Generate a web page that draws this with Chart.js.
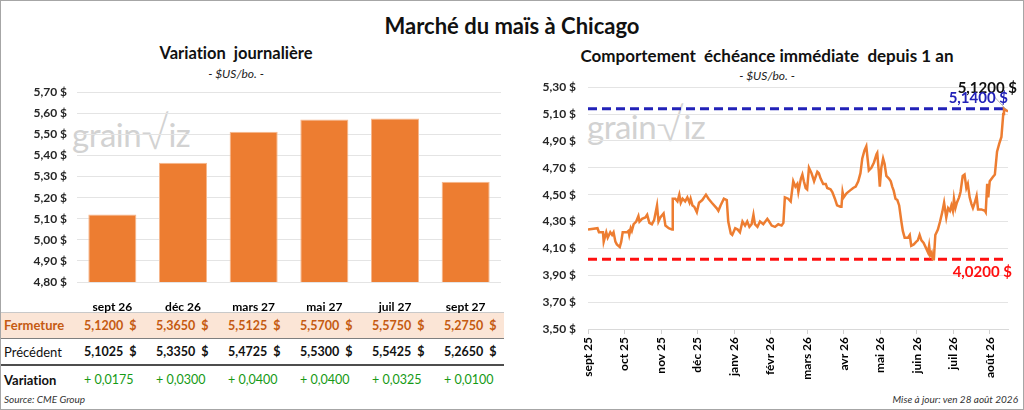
<!DOCTYPE html>
<html lang="fr">
<head>
<meta charset="utf-8">
<script src="https://cdn.jsdelivr.net/npm/chart.js@4.4.1/dist/chart.umd.min.js"></script>
<style>
  html, body { margin: 0; padding: 0; background: #fff; }
  body { width: 1024px; height: 410px; position: relative; overflow: hidden; font-family: Lato, "Noto Sans", sans-serif; color: #111; font-variant-ligatures: none; }
  .cadre { position: absolute; left: 0; top: 0; width: 1022px; height: 408px; border: 1px solid #a6a6a6; }
  .c { position: absolute; white-space: nowrap; transform: translate(-50%, -50%); }
  .titre { font-weight: bold; font-size: 22px; color: #111; }
  .sous { font-weight: bold; font-size: 16.5px; color: #111; }
  .unite { font-style: italic; font-size: 12px; color: #222; }
  .marque { position: absolute; font-size: 33px; color: #d2d2d2; letter-spacing: -0.5px; }
  .marque span { font-size: 44px; font-weight: 300; vertical-align: -2px; }
  canvas { position: absolute; z-index: 2; }
  .ligne { position: absolute; left: 1px; width: 503px; }
  .cell { position: absolute; top: 0; white-space: nowrap; }
  .note { position: absolute; font-style: italic; font-size: 10px; color: #333; white-space: nowrap; }
</style>
</head>
<body>
<div class="cadre"></div>

<div class="c titre" style="left:512px; top:25px;">Marché du maïs à Chicago</div>

<div class="c sous" style="left:236px; top:53px;">Variation&nbsp; journalière</div>
<div class="c unite" style="left:236px; top:73px;">- $US/bo. -</div>

<div class="c sous" style="left:767px; top:55px; font-size:17px;">Comportement&nbsp; échéance immédiate&nbsp; depuis 1 an</div>
<div class="c unite" style="left:767px; top:75px;">- $US/bo. -</div>

<div class="marque" style="left:72px; top:106px;">grain<span>√</span>iz</div>
<div class="marque" style="left:587px; top:98px;">grain<span>√</span>iz</div>

<canvas id="jour" width="512" height="239" style="left:0; top:75px;"></canvas>
<canvas id="annee" width="512" height="317" style="left:512px; top:68px;"></canvas>

<div id="tableau"></div>

<div class="note" style="left:4px; top:393px;">Source: CME Group</div>
<div class="note" style="right:6px; top:393px;">Mise à jour: ven 28 août 2026</div>

<script>
// --- Variation journalière (échéances) ---
const echeances = ['sept 26', 'déc 26', 'mars 27', 'mai 27', 'juil 27', 'sept 27'];
const fermeture = [5.12, 5.365, 5.5125, 5.57, 5.575, 5.275];
const precedent = [5.1025, 5.335, 5.4725, 5.53, 5.5425, 5.265];
const variation = [0.0175, 0.03, 0.04, 0.04, 0.0325, 0.01];

// --- Échéance immédiate depuis 1 an ---
const moisAxe = ['sept 25', 'oct 25', 'nov 25', 'déc 25', 'janv 26', 'févr 26',
                 'mars 26', 'avr 26', 'mai 26', 'juin 26', 'juil 26', 'août 26'];
// position en mois depuis début sept 2025
const positions = [
  0.00, 0.26, 0.30, 0.41, 0.43, 0.50, 0.54, 0.61, 0.66, 0.70, 0.75, 0.79, 0.87, 0.91, 0.95,
  1.07, 1.11, 1.13, 1.17, 1.20, 1.25, 1.32, 1.38, 1.41, 1.48, 1.57, 1.62, 1.68, 1.75, 1.81, 1.89, 1.93, 1.98,
  2.07, 2.12, 2.21, 2.30, 2.32, 2.39, 2.45, 2.50, 2.54, 2.59, 2.66, 2.72, 2.78, 2.81, 2.86, 2.91, 2.98,
  3.04, 3.13, 3.23, 3.30, 3.39, 3.52, 3.57, 3.63, 3.72, 3.80, 3.84, 3.91, 3.95,
  4.03, 4.10, 4.16, 4.23, 4.30, 4.36, 4.42, 4.48, 4.53, 4.57, 4.64, 4.71, 4.80, 4.91, 4.96,
  5.03, 5.12, 5.21, 5.30, 5.35, 5.39, 5.48, 5.55, 5.62, 5.68, 5.73, 5.76, 5.83, 5.87, 5.91, 5.96,
  6.00, 6.05, 6.12, 6.19, 6.28, 6.32, 6.37, 6.44, 6.51, 6.55, 6.64, 6.69, 6.76, 6.82, 6.91, 6.94, 6.97,
  7.00, 7.08, 7.17, 7.26, 7.33, 7.40, 7.46, 7.51, 7.57, 7.62, 7.69, 7.76, 7.83, 7.90, 7.92, 7.96, 7.99,
  8.03, 8.08, 8.12, 8.17, 8.24, 8.29, 8.33, 8.37, 8.42, 8.47, 8.52, 8.58, 8.62, 8.67, 8.76, 8.81, 8.85, 8.92, 8.99,
  9.03, 9.08, 9.13, 9.19, 9.26, 9.31, 9.34, 9.37, 9.41, 9.44, 9.47, 9.51, 9.58, 9.64, 9.70, 9.75, 9.81, 9.86, 9.91, 9.95, 9.99,
  10.02, 10.06, 10.10, 10.16, 10.20, 10.26, 10.31, 10.36, 10.40, 10.45, 10.50, 10.54, 10.59, 10.64, 10.68, 10.77, 10.87, 10.89, 10.93, 10.96,
  11.00, 11.08, 11.14, 11.20, 11.26, 11.32, 11.37, 11.39, 11.50
];
const prix = [
  4.24, 4.25, 4.22, 4.22, 4.15, 4.22, 4.18, 4.22, 4.20, 4.22, 4.15, 4.13, 4.11, 4.15, 4.22,
  4.22, 4.23, 4.20, 4.25, 4.23, 4.28, 4.30, 4.34, 4.30, 4.32, 4.33, 4.35, 4.29, 4.28, 4.31, 4.42, 4.30, 4.33,
  4.36, 4.27, 4.25, 4.24, 4.47, 4.47, 4.45, 4.50, 4.44, 4.47, 4.45, 4.48, 4.44, 4.47, 4.42, 4.41, 4.37,
  4.44, 4.46, 4.50, 4.47, 4.44, 4.40, 4.38, 4.42, 4.47, 4.46, 4.30, 4.21, 4.20,
  4.25, 4.24, 4.22, 4.30, 4.27, 4.30, 4.26, 4.28, 4.35, 4.28, 4.26, 4.30, 4.28, 4.32, 4.30,
  4.27, 4.26, 4.28, 4.27, 4.29, 4.48, 4.47, 4.45, 4.60, 4.56, 4.58, 4.52, 4.62, 4.65, 4.60, 4.55,
  4.54, 4.70, 4.66, 4.60, 4.67, 4.66, 4.62, 4.58, 4.58, 4.55, 4.54, 4.52, 4.47, 4.42, 4.41, 4.41, 4.52,
  4.48, 4.51, 4.53, 4.55, 4.56, 4.60, 4.66, 4.77, 4.83, 4.86, 4.68, 4.70, 4.74, 4.80, 4.81, 4.68, 4.56,
  4.70, 4.77, 4.73, 4.64, 4.62, 4.60, 4.56, 4.53, 4.47, 4.46, 4.42, 4.30, 4.23, 4.18, 4.18, 4.20, 4.12, 4.13, 4.15,
  4.16, 4.20, 4.16, 4.14, 4.10, 4.07, 4.12, 4.05, 4.07, 4.02, 4.02, 4.20, 4.24, 4.30, 4.37, 4.44, 4.33, 4.40, 4.38, 4.42, 4.38,
  4.47, 4.40, 4.44, 4.48, 4.52, 4.64, 4.65, 4.55, 4.58, 4.48, 4.43, 4.40, 4.44, 4.49, 4.39, 4.39, 4.38, 4.37, 4.58, 4.48,
  4.60, 4.63, 4.65, 4.82, 4.88, 4.93, 5.10, 5.14, 5.12
];
const plusHaut = 5.14;
const plusBas = 4.02;
const dernier = 5.12;

const orange = '#ED7D31';

function dollar2(v) { return v.toFixed(2).replace('.', ',') + ' $'; }
function dollar4(v) { return v.toFixed(4).replace('.', ',') + ' $'; }

Chart.defaults.font.family = 'Lato, "Noto Sans", sans-serif';
Chart.defaults.color = '#1a1a1a';

// graphique des échéances
new Chart(document.getElementById('jour'), {
  type: 'bar',
  data: {
    labels: echeances,
    datasets: [{
      data: fermeture,
      backgroundColor: orange,
      borderColor: '#F6B98F',
      borderWidth: 1,
      barPercentage: 0.68,
      categoryPercentage: 1
    }]
  },
  options: {
    responsive: false,
    animation: false,
    layout: { padding: { top: 0, right: 11, left: 0, bottom: 0 } },
    plugins: { legend: { display: false }, tooltip: { enabled: false } },
    scales: {
      x: {
        grid: { display: false },
        border: { display: false },
        ticks: { font: { weight: 'bold', size: 12 }, color: '#000', padding: 10 },
        afterFit: s => { s.height = 32; }
      },
      y: {
        min: 4.8,
        max: 5.7,
        ticks: { stepSize: 0.1, callback: v => dollar2(v), font: { weight: 'bold', size: 12 }, color: '#262626', padding: 10 },
        grid: { color: '#e4e4e4', drawTicks: false },
        border: { display: false },
        afterFit: s => { s.width = 77; }
      }
    }
  }
});

// étiquettes plus haut / plus bas / dernier
const etiquettes = {
  id: 'etiquettes',
  afterDatasetsDraw(chart) {
    const { ctx, chartArea: a, scales: { x, y } } = chart;
    ctx.save();
    ctx.font = 'bold 15px Lato, "Noto Sans", sans-serif';
    ctx.textAlign = 'right';
    ctx.textBaseline = 'middle';

    const px = x.getPixelForValue(positions[positions.length - 1]);
    const py = y.getPixelForValue(dernier);
    ctx.strokeStyle = '#a6a6a6';
    ctx.lineWidth = 0.8;
    ctx.beginPath();
    ctx.moveTo(px - 2, py - 2);
    ctx.lineTo(px - 14, py - 15);
    ctx.stroke();
    ctx.fillStyle = '#111';
    ctx.fillText(dollar4(dernier), px + 9, py - 23);

    ctx.fillStyle = '#2222B8';
    ctx.fillText(dollar4(plusHaut), a.right, y.getPixelForValue(plusHaut) - 11);
    ctx.fillStyle = '#FF1010';
    ctx.fillText(dollar4(plusBas), a.right + 4, y.getPixelForValue(plusBas) + 13);
    ctx.restore();
  }
};

new Chart(document.getElementById('annee'), {
  type: 'line',
  data: {
    datasets: [
      {
        data: positions.map((m, i) => ({ x: m, y: prix[i] })),
        borderColor: orange,
        borderWidth: 2.5,
        pointRadius: 0,
        tension: 0
      },
      {
        data: [{ x: 0, y: plusHaut }, { x: 11.5, y: plusHaut }],
        borderColor: '#2222B8',
        borderDash: [9, 5],
        borderWidth: 3,
        pointRadius: 0
      },
      {
        data: [{ x: 0, y: plusBas }, { x: 11.5, y: plusBas }],
        borderColor: '#FF1010',
        borderDash: [9, 5],
        borderWidth: 3,
        pointRadius: 0
      }
    ]
  },
  options: {
    responsive: false,
    animation: false,
    layout: { padding: { top: 0, right: 16, left: 0, bottom: 0 } },
    plugins: { legend: { display: false }, tooltip: { enabled: false } },
    scales: {
      x: {
        type: 'linear',
        min: 0,
        max: 11.5,
        ticks: {
          stepSize: 1,
          autoSkip: false,
          includeBounds: false,
          minRotation: 90,
          maxRotation: 90,
          padding: 3,
          font: { weight: 'bold', size: 12 },
          color: '#000',
          callback: v => moisAxe[v] ?? ''
        },
        grid: { drawOnChartArea: false, drawTicks: true, tickLength: 5, color: '#d0d0d0' },
        border: { color: '#d9d9d9' },
        afterFit: s => { s.height = 56; }
      },
      y: {
        min: 3.5,
        max: 5.3,
        ticks: { stepSize: 0.2, callback: v => dollar2(v), font: { weight: 'bold', size: 12 }, color: '#262626', padding: 12 },
        grid: { color: '#e4e4e4', drawTicks: false },
        border: { display: false },
        afterFit: s => { s.width = 76; }
      }
    }
  },
  plugins: [etiquettes]
});

// tableau sous le graphique des échéances
function cellules(valeurs, format, style) {
  return valeurs.map((v, i) =>
    `<div class="cell" style="left:${83 + 72 * i}px; ${style}">${format(v)}</div>`).join('');
}
const fmtPrix = v => v.toFixed(4).replace('.', ',') + '&nbsp;&nbsp;$';
const fmtVar = v => '+ ' + v.toFixed(4).replace('.', ',');

document.getElementById('tableau').innerHTML =
  `<div class="ligne" style="top:312px; height:25px; line-height:25px; background:#FBE5D6; border-top:1px solid #c9c9c9; border-bottom:1px solid #7f7f7f;">
     <div class="cell" style="left:3px; font-weight:bold; font-size:13px; color:#C55A11;">Fermeture</div>
     ${cellules(fermeture, fmtPrix, 'font-weight:bold; font-size:12.5px; color:#C55A11;')}
   </div>
   <div class="ligne" style="top:339px; height:25px; line-height:26px; border-bottom:2.5px solid #4d4d4d;">
     <div class="cell" style="left:3px; font-size:13px; color:#111;">Précédent</div>
     ${cellules(precedent, fmtPrix, 'font-weight:bold; font-size:12.5px; color:#111;')}
   </div>
   <div class="ligne" style="top:368px; height:24px; line-height:24px;">
     <div class="cell" style="left:3px; font-weight:bold; font-size:13px; color:#111;">Variation</div>
     ${cellules(variation, fmtVar, 'font-size:12.5px; color:#159A15;')}
   </div>`;
</script>
</body>
</html>
